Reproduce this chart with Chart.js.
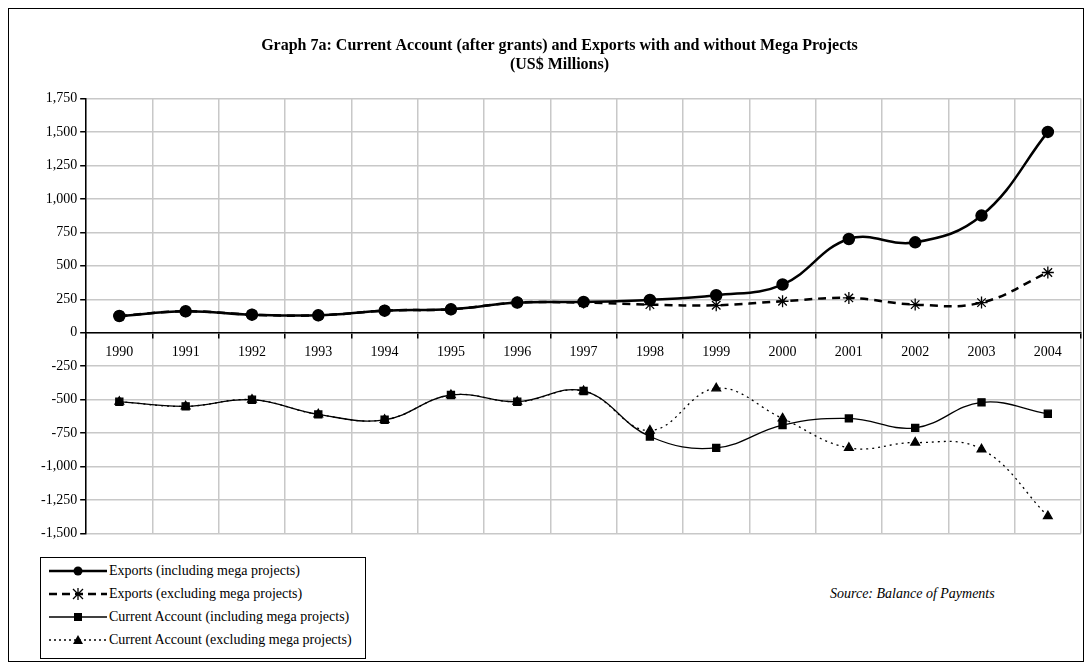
<!DOCTYPE html>
<html><head><meta charset="utf-8">
<script src="https://cdn.jsdelivr.net/npm/chart.js@4"></script>
<style>
body{margin:0;background:#fff;font-family:"Liberation Serif",serif;}
#frame{position:absolute;left:8px;top:8px;width:1074px;height:652px;border:1px solid #000;}
#wrap{position:absolute;left:0;top:0;width:1091px;height:545px;}
#legend{position:absolute;left:40px;top:557px;width:324px;height:100px;border:1px solid #000;font-size:14px;}
#legend div{height:20px;display:flex;align-items:center;margin-top:3px;}
#legend svg{margin-left:8px;margin-right:2px;}
#src{position:absolute;left:830px;top:586px;font-style:italic;font-size:14px;}
</style></head><body>
<div id="frame"></div>
<div id="wrap"><canvas id="c" width="1091" height="545"></canvas></div>
<div id="legend">
<div><svg width="58" height="14"><line x1="0" y1="7" x2="58" y2="7" stroke="#000" stroke-width="2.5"/><circle cx="29" cy="7" r="4.5"/></svg>Exports (including mega projects)</div>
<div><svg width="58" height="14"><line x1="0" y1="7" x2="58" y2="7" stroke="#000" stroke-width="2.5" stroke-dasharray="8,5"/><path d="M24 2 L34 12 M34 2 L24 12 M29 1 L29 13" stroke="#000" stroke-width="1.3"/></svg>Exports (excluding mega projects)</div>
<div><svg width="58" height="14"><line x1="0" y1="7" x2="58" y2="7" stroke="#000" stroke-width="1.3"/><rect x="25" y="3" width="8" height="8"/></svg>Current Account (including mega projects)</div>
<div><svg width="58" height="14"><line x1="0" y1="7" x2="58" y2="7" stroke="#000" stroke-width="1.3" stroke-dasharray="2,3"/><path d="M29 2 L34 11 L24 11 Z"/></svg>Current Account (excluding mega projects)</div>
</div>
<div id="src">Source: Balance of Payments</div>
<script>
const years=['1990','1991','1992','1993','1994','1995','1996','1997','1998','1999','2000','2001','2002','2003','2004'];
const exportsIncl=[125,160,135,130,165,175,225,230,245,280,360,700,675,875,1500];
const exportsExcl=[125,160,135,130,165,175,225,225,210,205,235,260,210,225,450];
const caIncl=[-515,-550,-500,-610,-650,-465,-515,-435,-775,-860,-690,-640,-710,-520,-605];
const caExcl=[-515,-550,-500,-610,-650,-465,-515,-435,-730,-415,-640,-860,-820,-870,-1370];
const f="'Liberation Serif', serif";
new Chart(document.getElementById('c'),{type:'line',
data:{labels:years,datasets:[
{label:'Exports (including mega projects)',data:exportsIncl,borderColor:'#000',backgroundColor:'#000',borderWidth:2.5,pointStyle:'circle',pointRadius:5,tension:0.4},
{label:'Exports (excluding mega projects)',data:exportsExcl,borderColor:'#000',backgroundColor:'#000',borderWidth:2.5,borderDash:[8,6],pointStyle:'star',pointRadius:6,pointBorderWidth:1.3,tension:0.4},
{label:'Current Account (including mega projects)',data:caIncl,borderColor:'#000',backgroundColor:'#000',borderWidth:1.3,pointStyle:'rect',pointRadius:5,tension:0.4},
{label:'Current Account (excluding mega projects)',data:caExcl,borderColor:'#000',backgroundColor:'#000',borderWidth:1.3,borderDash:[2,4],pointStyle:'triangle',pointRadius:5,tension:0.4}
]},
options:{responsive:false,animation:false,devicePixelRatio:1,
layout:{padding:{left:38,right:10,top:0,bottom:10}},
plugins:{legend:{display:false},tooltip:{enabled:false},
title:{display:true,text:['Graph 7a: Current Account (after grants) and Exports with and without Mega Projects','(US$ Millions)'],color:'#000',font:{family:f,size:16,weight:'bold',lineHeight:1.2},padding:{top:36,bottom:24}}},
scales:{
x:{position:{y:0},offset:true,grid:{offset:true,color:'#c8c8c8',tickColor:'#000',tickLength:5,lineWidth:1.5},border:{color:'#000',width:1.5},ticks:{color:'#000',font:{family:f,size:14},padding:6,maxRotation:0,autoSkip:false}},
y:{min:-1500,max:1750,grid:{color:'#c8c8c8',lineWidth:1.5,tickColor:'#000',tickLength:6},border:{color:'#000',width:1.5},
ticks:{stepSize:250,color:'#000',font:{family:f,size:14},callback:v=>v.toLocaleString('en-US')}}
}}});
</script>
</body></html>
